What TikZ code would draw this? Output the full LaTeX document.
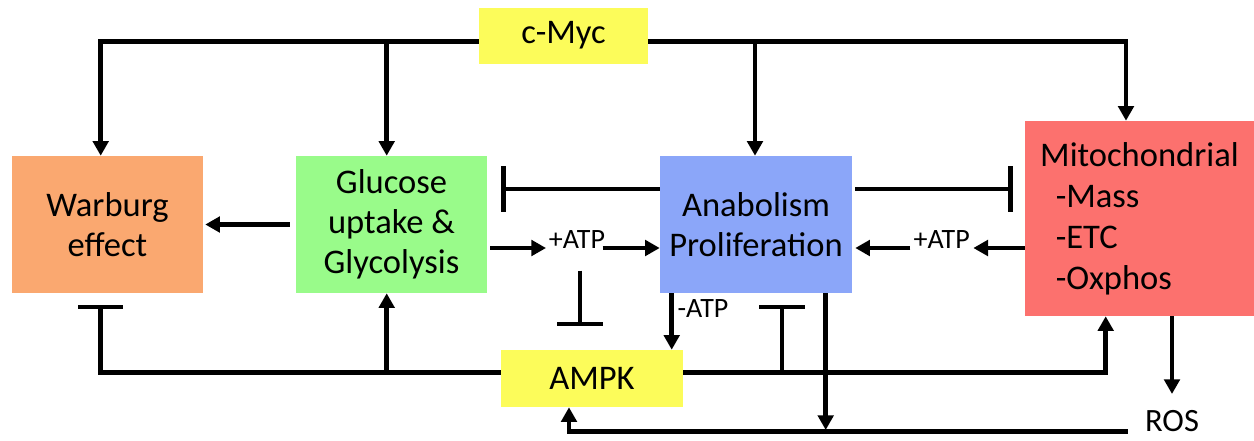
\documentclass[tikz,border=0pt]{standalone}
\usepackage{fontspec}
\setmainfont{Carlito}
\usetikzlibrary{arrows.meta}
\definecolor{corange}{RGB}{250,168,112}
\definecolor{cgreen}{RGB}{153,251,138}
\definecolor{cblue}{RGB}{139,166,249}
\definecolor{cred}{RGB}{252,113,110}
\definecolor{cyellow}{RGB}{252,252,90}
\tikzset{
  box/.style={rectangle, inner sep=0pt, align=center, font=\fontsize{25.9}{30}\selectfont},
  lbl/.style={inner sep=0pt, font=\fontsize{21}{24}\selectfont},
  conn/.style={line width=3.5pt, line join=miter},
  arr/.style={conn, -{Triangle[width=11.6pt,length=11pt]}},
  inh/.style={conn, -{Bar[width=34pt]}},
}
\begin{document}
\begin{tikzpicture}[x=0.75pt,y=-0.75pt]
\useasboundingbox (0,0) rectangle (1254,440);
% nodes
\node[box, fill=cyellow, minimum width=126.75pt, minimum height=42pt] (myc) at (563.5,35.5) {c-Myc};
\node[box, fill=corange, minimum width=143.25pt, minimum height=102.75pt] (war) at (107.5,224.5) {Warburg\\effect};
\node[box, fill=cgreen, minimum width=143.25pt, minimum height=102.75pt] (glu) at (391.5,224.5) {Glucose\\uptake \&\\Glycolysis};
\node[box, fill=cblue, minimum width=144pt, minimum height=102.75pt] (ana) at (756,224.5) {Anabolism\\Proliferation};
\node[box, fill=cred, minimum width=171.75pt, minimum height=146.25pt, align=left, font=\fontsize{25.9}{30.75}\selectfont] (mit) at (1139.5,218.5) {Mitochondrial\\\hspace{0.45em}-Mass\\\hspace{0.45em}-ETC\\\hspace{0.45em}-Oxphos};
\node[box, fill=cyellow, minimum width=136.5pt, minimum height=42.75pt] (ampk) at (592,378.5) {AMPK};
\node[inner sep=0pt, font=\fontsize{24.4}{28}\selectfont] (ros) at (1172,421) {ROS};
\node[lbl] (atp1) at (577,240) {+ATP};
\node[lbl] (atp2) at (941.7,240) {+ATP};
\node[lbl] (matp) at (703,309) {-ATP};
% coordinates
\coordinate (tl) at (100.7,41.7);
\coordinate (tg) at (386.7,41.7);
\coordinate (ta) at (755,41.7);
\coordinate (tr) at (1126,41.7);
\coordinate (iy) at (0,189);
\coordinate (ay) at (0,248);
\coordinate (ib) at (580,270.7);
\coordinate (mx) at (671.7,0);
\coordinate (ly) at (0,372.7);
\coordinate (lx) at (100.7,372.7);
\coordinate (gu) at (386.7,372.7);
\coordinate (rx) at (1105.7,372.7);
\coordinate (tx) at (782,372.7);
\coordinate (dx) at (825.7,430);
\coordinate (by) at (0,431.7);
\coordinate (bx) at (569,431.7);
\coordinate (rosx) at (1172,0);
\coordinate (rostip) at (1172,394);
% c-Myc
\draw[arr] (myc.west |- tl) -- (tl) -- (tl |- war.north);
\draw[arr] (tg) -- (tg |- glu.north);
\draw[arr] (ta) -- (ta |- ana.north);
\draw[arr] (myc.east |- tr) -- (tr) -- (tr |- mit.north);
% Glucose -> Warburg
\draw[arr, shorten <=4.5pt, shorten >=1.5pt] (glu.west) -- (war.east);
% inhibitions from Anabolism
\draw[inh, shorten >=10.3pt] (ana.west |- iy) -- (glu.east |- iy);
\draw[inh, shorten <=2.25pt, shorten >=9pt] (ana.east |- iy) -- (mit.west |- iy);
% +ATP arrows
\draw[arr, shorten <=2.25pt, shorten >=2pt] (glu.east |- ay) -- (atp1.west |- ay);
\draw[arr, shorten <=-2pt] (atp1.east |- ay) -- (ana.west |- ay);
\draw[arr, shorten >=2.5pt] (mit.west |- ay) -- (atp2.east |- ay);
\draw[arr, shorten <=2.25pt, shorten >=2.25pt] (atp2.west |- ay) -- (ana.east |- ay);
% +ATP -| AMPK
\draw[inh, shorten >=17.5pt] (ib) -- (ib |- ampk.north);
% -ATP
\draw[arr] (mx |- ana.south) -- (mx |- ampk.north);
% AMPK lines
\draw[inh, shorten >=8.5pt] (ampk.west |- ly) -- (lx) -- (lx |- war.south);
\draw[arr] (gu) -- (gu |- glu.south);
\draw[arr] (ampk.east |- ly) -- (rx) -- (rx |- mit.south);
\draw[inh, shorten >=8.5pt] (tx) -- (tx |- ana.south);
% Anabolism down, ROS -> AMPK
\draw[arr] (dx |- ana.south) -- (dx);
\draw[arr, shorten <=12.75pt] (ros.west |- by) -- (bx) -- (bx |- ampk.south);
% Mito -> ROS
\draw[arr] (rosx |- mit.south) -- (rostip);
\end{tikzpicture}
\end{document}
